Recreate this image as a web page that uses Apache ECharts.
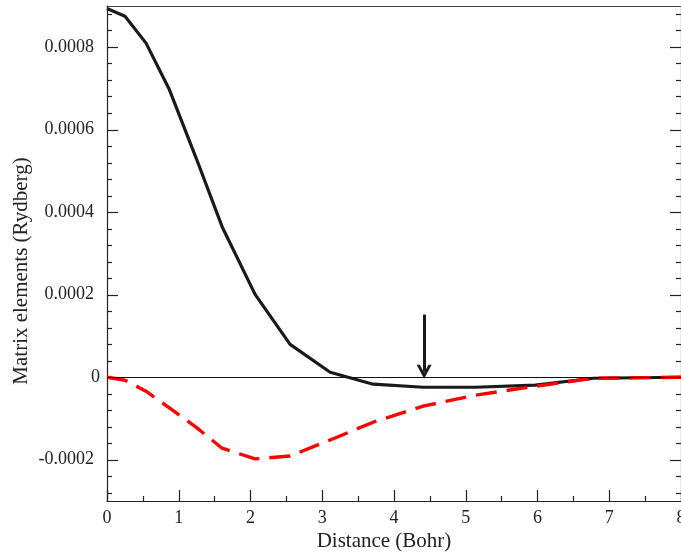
<!DOCTYPE html>
<html><head><meta charset="utf-8">
<script src="https://cdn.jsdelivr.net/npm/echarts@6/dist/echarts.min.js"></script>
<style>html,body{margin:0;padding:0;background:#fff}#c{width:681px;height:557px}</style>
</head><body><div id="c"></div>
<script>
// Distance (Bohr)
const distance = [0, 0.251, 0.544, 0.865, 1.241, 1.604, 2.064, 2.552, 3.110, 3.710, 4.407, 5.132, 5.969, 6.778, 8.0];
// Solid black curve (Rydberg)
const solidValues = [0.000894, 0.000875, 0.000810, 0.000699, 0.000532, 0.000365, 0.000201, 0.0000798, 0.0000121, -0.0000169, -0.0000242, -0.0000242, -0.0000193, -0.0000024, 0];
// Dashed red curve (Rydberg)
const dashedValues = [0, -0.0000073, -0.0000338, -0.0000737, -0.000121, -0.000172, -0.000198, -0.000191, -0.000152, -0.000109, -0.0000701, -0.0000435, -0.0000218, -0.0000024, 0];
// Axis ticks
const yMajorTicks = [-0.0002, 0, 0.0002, 0.0004, 0.0006, 0.0008];
const yLabelTicks = [-0.0002, 0.0002, 0.0004, 0.0006, 0.0008];
const yZeroLabel = [0];
const yMinorTicks = [-0.00028, -0.00024, -0.00016, -0.00012, -0.00008, -0.00004,
  0.00004, 0.00008, 0.00012, 0.00016, 0.00024, 0.00028, 0.00032, 0.00036,
  0.00044, 0.00048, 0.00052, 0.00056, 0.00064, 0.00068, 0.00072, 0.00076, 0.00084, 0.00088];
// Arrow annotation
const arrowX = 4.42, arrowTop = 0.000152, arrowEnd = 0.0000133;

const FONT = '"Liberation Serif", "DejaVu Serif", serif';
const AX = '#222';
const pairs = (xs, ys) => xs.map((x, i) => [x, ys[i]]);

const chart = echarts.init(document.getElementById('c'), null, {renderer: 'canvas'});
const yBase = {type: 'value', min: -0.0003, max: 0.0009, splitLine: {show: false}};
chart.setOption({
  animation: false,
  grid: {left: 107, right: 0, top: 6, bottom: 56, containLabel: false, outerBoundsMode: 'none'},
  xAxis: [
    {type: 'value', min: 0, max: 8, interval: 1, position: 'bottom',
      axisLine: {show: true, onZero: false, lineStyle: {color: AX, width: 1.2}},
      axisTick: {show: true, inside: true, length: 11, lineStyle: {color: AX, width: 1.2}},
      minorTick: {show: true, splitNumber: 2, length: 5, lineStyle: {color: AX, width: 1.2}},
      axisLabel: {margin: 8, fontFamily: FONT, fontSize: 18, color: AX},
      splitLine: {show: false}},
    {type: 'value', min: 0, max: 8, position: 'top',
      axisLine: {show: true, onZero: false, lineStyle: {color: '#444', width: 1.2}},
      axisTick: {show: false}, axisLabel: {show: false}, splitLine: {show: false}}
  ],
  yAxis: [
    Object.assign({}, yBase, {position: 'left',
      axisLine: {show: true, onZero: false, lineStyle: {color: AX, width: 1.2}},
      axisTick: {show: true, inside: true, length: 11, customValues: yMajorTicks, lineStyle: {color: AX, width: 1.2}},
      axisLabel: {show: true, customValues: yLabelTicks, margin: 13, fontFamily: FONT, fontSize: 18, color: AX,
        formatter: v => Number(v).toFixed(4)}}),
    Object.assign({}, yBase, {position: 'left',
      axisLine: {show: false, onZero: false},
      axisTick: {show: true, inside: true, length: 5, customValues: yMinorTicks, lineStyle: {color: AX, width: 1.2}},
      axisLabel: {show: true, customValues: yZeroLabel, margin: 7, fontFamily: FONT, fontSize: 18, color: AX,
        formatter: () => '0'}}),
    Object.assign({}, yBase, {position: 'right',
      axisLine: {show: true, onZero: false, lineStyle: {color: AX, width: 1.2}},
      axisTick: {show: true, inside: true, length: 11, customValues: yMajorTicks, lineStyle: {color: AX, width: 1.2}},
      axisLabel: {show: false}}),
    Object.assign({}, yBase, {position: 'right',
      axisLine: {show: false, onZero: false},
      axisTick: {show: true, inside: true, length: 5, customValues: yMinorTicks, lineStyle: {color: AX, width: 1.2}},
      axisLabel: {show: false}})
  ],
  series: [
    {type: 'line', name: 'solid', data: pairs(distance, solidValues), showSymbol: false, symbol: 'none',
      lineStyle: {color: '#1a1a1a', width: 3.2}, silent: true, z: 3,
      markLine: {silent: true, symbol: ['none', 'none'], label: {show: false}, emphasis: {disabled: true},
        data: [
          {yAxis: 0, lineStyle: {color: '#111', width: 1, type: 'solid'}},
          [{coord: [arrowX, arrowTop], lineStyle: {color: '#1a1a1a', width: 3, type: 'solid'}},
           {coord: [arrowX, arrowEnd], symbol: 'path://M7,0 L14,13 L11,13 L7,5.5 L3,13 L0,13 Z', symbolSize: [15, 14]}]
        ]}},
    {type: 'line', name: 'dashed', data: pairs(distance, dashedValues), showSymbol: false, symbol: 'none',
      lineStyle: {color: '#ff0000', width: 3.4, type: [21, 10]}, silent: true, z: 4}
  ],
  graphic: [
    {type: 'text', x: 384, y: 541, style: {text: 'Distance (Bohr)', font: '21px ' + FONT, fill: AX, align: 'center', verticalAlign: 'middle'}},
    {type: 'text', x: 21, y: 271, rotation: Math.PI / 2, style: {text: 'Matrix elements (Rydberg)', font: '21px ' + FONT, fill: AX, align: 'center', verticalAlign: 'middle'}}
  ]
});
</script>
</body></html>
